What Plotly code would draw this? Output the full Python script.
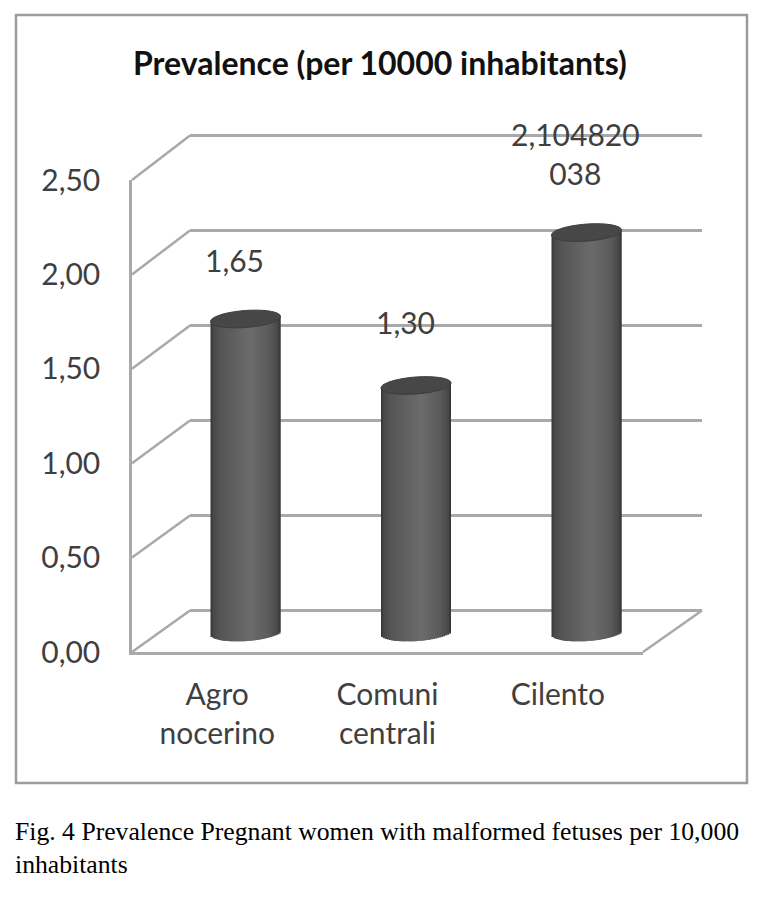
import numpy as np
import plotly.graph_objects as go

# -----------------------------
# Data
# -----------------------------
categories = ["Agro nocerino", "Comuni centrali", "Cilento"]
prevalence = [1.65, 1.30, 2.10482]
value_labels = ["1,65", "1,30", "2,104820<br>038"]
tick_vals = [0, 0.5, 1, 1.5, 2, 2.5]
tick_text = ["0,00", "0,50", "1,00", "1,50", "2,00", "2,50"]

W, H = 758, 900
SCALE = 190.0   # px per unit on the back wall and on the bars
STEP = 170.5    # px between bars
RX, RY, TILT = 35, 8.5, 2.5   # cylinder ellipse, px
TEXT = "#3f3f3f"
LINE = "#a9a9a9"
FONT = "Lato"


def px(x):
    return x / W


def py(y):
    return 1 - y / H


# -----------------------------
# Cylinders: narrow strips shade the round body
# -----------------------------
N_STRIPS = 35
strip_pos = (np.arange(N_STRIPS) + 0.5) / N_STRIPS * 2 - 1
stops_t = [-1, -0.92, -0.7, 0.15, 0.7, 0.92, 1]
stops_c = [52, 72, 86, 108, 90, 72, 50]

fig = go.Figure()
strip_w = (2 * RX / STEP) / N_STRIPS
for k, t in enumerate(strip_pos):
    round_part = np.sqrt(max(1 - t * t, 0))
    grey = int(np.interp(t, stops_t, stops_c))
    # each strip runs under the next one, the last stops at the cylinder edge
    w = strip_w if k == N_STRIPS - 1 else strip_w * 2
    fig.add_trace(go.Bar(
        x=categories,
        y=[v + RY * round_part / SCALE for v in prevalence],
        base=[(TILT * t - RY * round_part) / SCALE] * 3,
        width=w,
        offset=t * RX / STEP - strip_w / 2,
        marker=dict(color=f"rgb({grey},{grey},{grey})", line=dict(width=0)),
        xaxis="x3", yaxis="y3", hoverinfo="skip", showlegend=False,
    ))

# -----------------------------
# Shapes
# -----------------------------
shapes = [dict(type="rect", xref="paper", yref="paper",
               x0=px(16), x1=px(747), y0=py(15), y1=py(783),
               line=dict(color="#9c9c9c", width=2.5))]

# side wall links from the left axis to the back wall
for v in tick_vals:
    shapes.append(dict(type="line", xref="paper", yref="paper",
                       x0=px(132), y0=py(652 - v * 188.8),
                       x1=px(190), y1=py(610.5 - v * SCALE),
                       line=dict(color=LINE, width=2.5)))
# right edge of the floor
shapes.append(dict(type="line", xref="paper", yref="paper",
                   x0=px(643), y0=py(652), x1=px(702), y1=py(610.5),
                   line=dict(color=LINE, width=2.5)))

# top of each cylinder
theta = np.linspace(0, 2 * np.pi, 61)
for i, v in enumerate(prevalence):
    xs = i + RX * np.cos(theta) / STEP
    ys = v + (RY * np.sin(theta) + TILT * np.cos(theta)) / SCALE
    path = "M" + "L".join(f"{a:.4f},{b:.4f}" for a, b in zip(xs, ys)) + "Z"
    shapes.append(dict(type="path", path=path, xref="x3", yref="y3",
                       fillcolor="#474747", line=dict(color="#3c3c3c", width=1)))

# -----------------------------
# Text
# -----------------------------
annotations = []
label_shift = [59, 64, 79]
for i, lab in enumerate(value_labels):
    annotations.append(dict(x=categories[i], y=prevalence[i], xref="x3", yref="y3",
                            text=lab, showarrow=False, xshift=-11, yshift=label_shift[i],
                            font=dict(family=FONT, size=30, color=TEXT)))

annotations.append(dict(x=px(380.5), y=py(62), xref="paper", yref="paper", yanchor="middle",
                        text="<b>Prevalence (per 10000 inhabitants)</b>", showarrow=False,
                        font=dict(family=FONT, size=32, color="#111111")))
annotations.append(dict(x=px(13), y=py(848), xref="paper", yref="paper",
                        text="Fig. 4 Prevalence Pregnant women with malformed fetuses per 10,000<br>inhabitants",
                        showarrow=False, xanchor="left", yanchor="middle", align="left",
                        font=dict(family="Liberation Serif", size=25.7, color="#000000")))

# -----------------------------
# Layout
# -----------------------------
fig.add_trace(go.Scatter(x=[0], y=[0], xaxis="x2", yaxis="y2", mode="none", hoverinfo="skip"))
fig.add_trace(go.Scatter(x=categories, y=prevalence, xaxis="x", yaxis="y", mode="none", hoverinfo="skip"))

fig.update_layout(
    width=W, height=H,
    margin=dict(l=0, r=0, t=0, b=0),
    paper_bgcolor="white", plot_bgcolor="rgba(0,0,0,0)",
    showlegend=False, barmode="overlay",
    shapes=shapes, annotations=annotations,
    # left axis and floor front
    xaxis=dict(domain=[px(132), px(643)], type="category", range=[-0.5, 2.5],
               categoryorder="array", categoryarray=categories,
               tickvals=categories, ticktext=[c.replace(" ", "<br>") for c in categories],
               showline=True, linecolor=LINE, linewidth=2.5, ticks="", ticklabelstandoff=14,
               showgrid=False, zeroline=False, automargin=False,
               tickfont=dict(family=FONT, size=30, color=TEXT)),
    yaxis=dict(domain=[py(652), py(180)], range=[0, 2.5], tickvals=tick_vals, ticktext=tick_text,
               showline=True, linecolor=LINE, linewidth=2.5, ticks="", ticklabelstandoff=23,
               showgrid=False, zeroline=False, automargin=False,
               tickfont=dict(family=FONT, size=30, color=TEXT)),
    # back wall, range runs a little past 0 and 2.5 so the end gridlines are kept
    xaxis2=dict(domain=[px(190), px(702)], range=[0, 1], visible=False, anchor="y2", automargin=False),
    yaxis2=dict(domain=[py(620.5), py(125.5)], range=[-10 / SCALE, 485 / SCALE], tickvals=tick_vals,
                showticklabels=False, ticks="", showgrid=True, gridcolor=LINE, gridwidth=2.5,
                zeroline=False, anchor="x2", showline=False, automargin=False),
    # bars
    xaxis3=dict(domain=[px(245.5 - STEP / 2), px(245.5 + 2.5 * STEP)], type="category",
                range=[-0.5, 2.5], categoryorder="array", categoryarray=categories,
                visible=False, anchor="y3", automargin=False),
    yaxis3=dict(domain=[py(672.5), py(132.5)], range=[-40 / SCALE, 500 / SCALE],
                visible=False, anchor="x3", automargin=False),
)

fig.write_html("out.html", config=dict(displayModeBar=False),
               post_script="document.body.style.margin='0';document.body.style.overflow='hidden';")
